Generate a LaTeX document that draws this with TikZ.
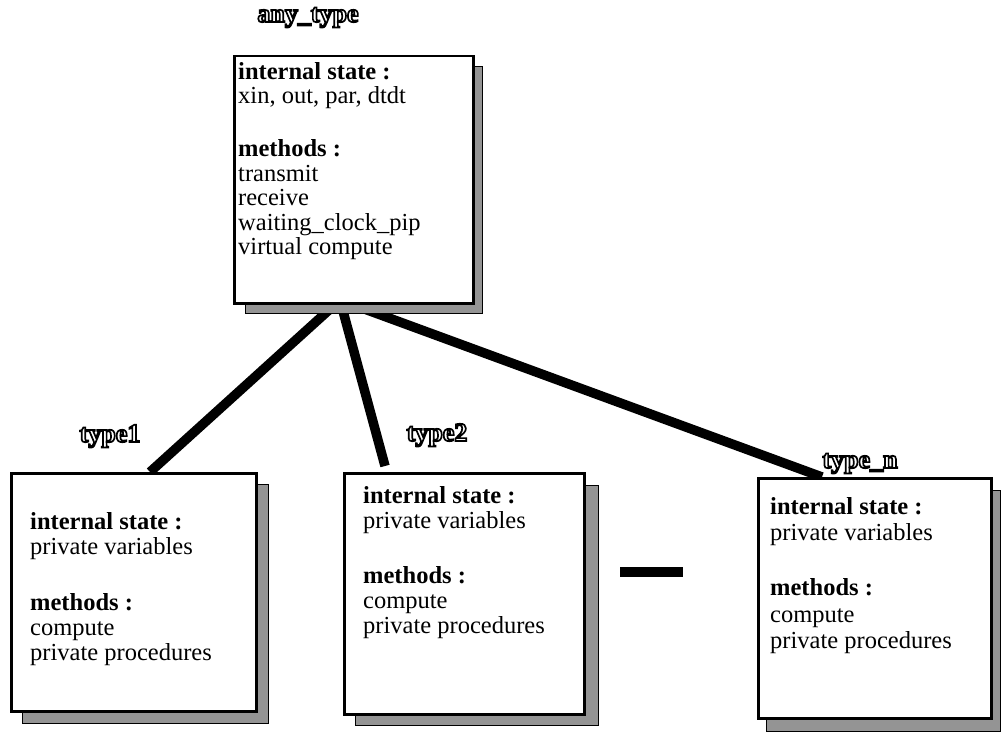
\documentclass[tikz,border=0pt]{standalone}
\usepackage{fontspec}
\setmainfont{Liberation Serif}
\begin{document}
\begin{tikzpicture}[x=1pt,y=-1pt]
\tikzset{
  box/.style={draw=black, line width=2.5pt, fill=white, rectangle, inner sep=0pt, anchor=north west},
  shade/.style={draw=black, line width=0.8pt, fill=black!42},
  body/.style={anchor=north west, align=left, inner sep=0pt, font=\fontsize{24.5}{25}\selectfont},
  link/.style={line width=9.5pt, line cap=butt},
  ttl/.style={anchor=base, inner sep=0pt, font=\fontsize{26}{28}\selectfont\bfseries},
}
\newcommand\outl[3]{%
  \node[ttl] (#1) at (#2) {\color{white}\special{pdf:literal direct 0 0 0 RG 2 Tr 1.7 w}#3\special{pdf:literal direct 0 Tr}};}
\useasboundingbox (0,0) rectangle (1001,733);
% hub and connector ends
\coordinate (hub) at (340,300);
\coordinate (c1) at (150,472);
\coordinate (c2) at (385,466);
\coordinate (c3) at (822,477);
\draw[link] (hub) -- (c1);
\draw[link] (hub) -- (c2);
\draw[link] (hub) -- (c3);
% top box
\draw[shade] (245,66) rectangle (482,313);
\node[box, minimum width=239pt, minimum height=247pt] (top) at (233,55) {};
\node[body, font=\fontsize{24.5}{24.5}\selectfont] (toptext) at (238,62) {\textbf{internal state :}\\xin, out, par, dtdt\\[28.5pt]\textbf{methods :}\\transmit\\receive\\waiting\_clock\_pip\\virtual compute};
% box 1
\draw[shade] (22,484) rectangle (268,723);
\node[box, minimum width=245pt, minimum height=238pt] (b1) at (10,472) {};
\node[body] (t1) at (30,512) {\textbf{internal state :}\\private variables\\[31pt]\textbf{methods :}\\compute\\private procedures};
% box 2
\draw[shade] (355,485) rectangle (598,725);
\node[box, minimum width=240pt, minimum height=241pt] (b2) at (343,472) {};
\node[body] (t2) at (363,486) {\textbf{internal state :}\\private variables\\[30pt]\textbf{methods :}\\compute\\private procedures};
% box 3
\draw[shade] (766,490) rectangle (1000,731);
\node[box, minimum width=233pt, minimum height=240pt] (b3) at (757,477) {};
\node[body, font=\fontsize{24.5}{26.5}\selectfont] (t3) at (770,497) {\textbf{internal state :}\\private variables\\[28.5pt]\textbf{methods :}\\compute\\private procedures};
% ellipsis bar
\node[fill=black, inner sep=0pt, minimum width=63pt, minimum height=10pt] (dots) at (651,572) {};
% titles
\outl{ta}{308,22}{any\_type}
\outl{t1l}{110,442}{type1}
\outl{t2l}{437,441}{type2}
\outl{t3l}{860,468}{type\_n}
\end{tikzpicture}
\end{document}
